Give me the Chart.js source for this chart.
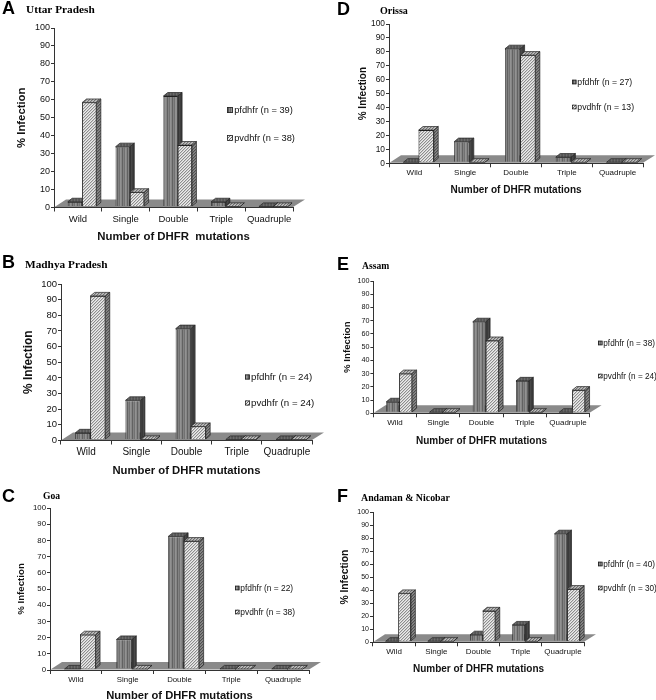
<!DOCTYPE html>
<html><head><meta charset="utf-8">
<script src="https://cdn.jsdelivr.net/npm/chart.js@4.4.1/dist/chart.umd.min.js"></script>
<style>
html,body{margin:0;padding:0;background:#fff;}
body{width:656px;height:700px;position:relative;overflow:hidden;}
canvas{position:absolute;display:block;}
</style></head><body>
<script>
// ---------- data ----------
const categories = ['Wild', 'Single', 'Double', 'Triple', 'Quadruple'];
const yTickValues = [0, 10, 20, 30, 40, 50, 60, 70, 80, 90, 100];
const panelLetters = ['A', 'B', 'C', 'D', 'E', 'F'];
const regionNames = ['Uttar Pradesh', 'Madhya Pradesh', 'Goa', 'Orissa', 'Assam', 'Andaman & Nicobar'];
const pfLegendLabels = ['pfdhfr (n = 39)', 'pfdhfr (n = 24)', 'pfdhfr (n = 22)', 'pfdhfr (n = 27)', 'pfdhfr (n = 38)', 'pfdhfr (n = 40)'];
const pvLegendLabels = ['pvdhfr (n = 38)', 'pvdhfr (n = 24)', 'pvdhfr (n = 38)', 'pvdhfr (n = 13)', 'pvdhfr (n = 24)', 'pvdhfr (n = 30)'];
const xAxisTitles = ['Number of DHFR  mutations', 'Number of DHFR mutations', 'Number of DHFR mutations',
                     'Number of DHFR mutations', 'Number of DHFR mutations', 'Number of DHFR mutations'];
const yAxisTitle = '% Infection';

const pfUttarPradesh = [2.6, 33.3, 61.5, 2.6, 0];
const pvUttarPradesh = [57.9, 7.9, 34.2, 0, 0];
const pfMadhyaPradesh = [4.2, 25.0, 70.8, 0, 0];
const pvMadhyaPradesh = [91.7, 0, 8.3, 0, 0];
const pfGoa = [0, 18.2, 81.8, 0, 0];
const pvGoa = [21.1, 0, 78.9, 0, 0];
const pfOrissa = [0, 14.8, 81.5, 3.7, 0];
const pvOrissa = [23.1, 0, 76.9, 0, 0];
const pfAssam = [7.9, 0, 68.4, 23.7, 0];
const pvAssam = [29.2, 0, 54.2, 0, 16.7];
const pfAndaman = [0, 0, 5.0, 12.5, 82.5];
const pvAndaman = [36.7, 0, 23.3, 0, 40.0];

const pfSeries = [pfUttarPradesh, pfMadhyaPradesh, pfGoa, pfOrissa, pfAssam, pfAndaman];
const pvSeries = [pvUttarPradesh, pvMadhyaPradesh, pvGoa, pvOrissa, pvAssam, pvAndaman];

// ---------- layout (page coordinates) ----------
const layouts = [
 {box:[0,0,330,248],   area:[54,293,28,207.5],   tick:9.5, ytick:9,   xLabY:219, yt:[11.3,21.5], xt:[11.4,237], leg:[9.3,227,110,138,6,1.2], let:[2,9],  reg:[26,10,11.3]},
 {box:[0,248,330,230], area:[61,312,284,440.5],  tick:10,  ytick:9.5, xLabY:452, yt:[11.9,29],   xt:[11.3,471], leg:[9.7,245,377,403,5,1],   let:[2,263],reg:[25,265,11.3]},
 {box:[0,478,330,222], area:[50,309,508,670],    tick:7.8, ytick:7.8, xLabY:680, yt:[9.7,21.7],  xt:[11.2,696], leg:[8.4,235,588,612,4.5,0.8], let:[2,497],reg:[43,497,9.6]},
 {box:[330,0,326,215], area:[389,643,24,163.3],  tick:8,   ytick:8.4, xLabY:173, yt:[10,363],    xt:[10,190],   leg:[8.7,572,82,107,4.5,0.8],  let:[337,10],reg:[380,11.5,10]},
 {box:[330,215,326,235],area:[373.4,589.6,281,413.3],tick:8,ytick:7.2,xLabY:423,yt:[9.7,347],   xt:[10,441],   leg:[8.2,598,343,376,4.5,0.8], let:[337,265],reg:[362,267,9.6]},
 {box:[330,450,326,250],area:[373,584,512,642.3], tick:8,  ytick:7,   xLabY:652, yt:[10.3,345],  xt:[10,669],   leg:[8.2,598,564,588,4.5,0.8], let:[337,497],reg:[361,498,9.9]}
];

const SANS = '"Liberation Sans", Arial, Helvetica, sans-serif';
const SERIF = '"Liberation Serif", "Times New Roman", Times, serif';

// ---------- patterns ----------
function mkPattern(w, h, paint) {
  const c = document.createElement('canvas'); c.width = w; c.height = h;
  const g = c.getContext('2d'); paint(g);
  return g.createPattern(c, 'repeat');
}
const stripeCols = ['#6a6a6a', '#9c9c9c', '#818181', '#5a5a5a', '#8c8c8c'];
const pfFront = mkPattern(5, 1, g => stripeCols.forEach((c, i) => { g.fillStyle = c; g.fillRect(i, 0, 1, 1); }));
const pfSide = mkPattern(3, 1, g => { g.fillStyle = '#3a3a3a'; g.fillRect(0,0,3,1); g.fillStyle = '#4c4c4c'; g.fillRect(1,0,1,1); });
const pfTop = mkPattern(3, 1, g => { g.fillStyle = '#555'; g.fillRect(0,0,3,1); g.fillStyle = '#707070'; g.fillRect(1,0,1,1); });
function hatch(bg, fg) {
  return mkPattern(3, 3, g => { g.fillStyle = bg; g.fillRect(0,0,3,3); g.fillStyle = fg; g.fillRect(0,2,1,1); g.fillRect(1,1,1,1); g.fillRect(2,0,1,1); });
}
const pvFront = hatch('#ececec', '#6e6e6e');
const pvSide = hatch('#8a8a8a', '#3c3c3c');
const pvTop = hatch('#c0c0c0', '#555555');

// ---------- 3D / decoration plugin ----------
const SHIFT = 4.2, BD = {x: 4.4, y: 3.6}, FD = {x: 12, y: 8};
function faces(ctx, el, side, top) {
  const p = el.getProps(['x', 'y', 'base', 'width'], true);
  const l = p.x - p.width / 2, r = p.x + p.width / 2;
  ctx.lineWidth = 0.7; ctx.strokeStyle = '#222';
  ctx.beginPath();
  ctx.moveTo(r, p.y); ctx.lineTo(r + BD.x, p.y - BD.y); ctx.lineTo(r + BD.x, p.base - BD.y); ctx.lineTo(r, p.base); ctx.closePath();
  ctx.fillStyle = side; ctx.fill(); ctx.stroke();
  ctx.beginPath();
  ctx.moveTo(l, p.y); ctx.lineTo(l + BD.x, p.y - BD.y); ctx.lineTo(r + BD.x, p.y - BD.y); ctx.lineTo(r, p.y); ctx.closePath();
  ctx.fillStyle = top; ctx.fill(); ctx.stroke();
}
function decor(i, L) {
  const bx = L.box[0], by = L.box[1];
  return {
    id: 'decor' + i,
    beforeDatasetsDraw(chart) {
      const ctx = chart.ctx, a = chart.chartArea;
      const y0 = chart.scales.y.getPixelForValue(0);
      ctx.save();
      ctx.beginPath();
      ctx.moveTo(a.left + 0.5, y0 - 0.5); ctx.lineTo(a.right, y0 - 0.5);
      ctx.lineTo(a.right + FD.x, y0 - FD.y); ctx.lineTo(a.left + FD.x, y0 - FD.y); ctx.closePath();
      ctx.fillStyle = '#8a8a8a'; ctx.fill();
      ctx.restore();
      ctx.save();
      ctx.translate(SHIFT, -1);
    },
    afterDatasetsDraw(chart) {
      const ctx = chart.ctx;
      const m0 = chart.getDatasetMeta(0), m1 = chart.getDatasetMeta(1);
      for (let k = 0; k < m0.data.length; k++) {
        faces(ctx, m0.data[k], pfSide, pfTop);
        m1.data[k].draw(ctx);
        faces(ctx, m1.data[k], pvSide, pvTop);
      }
      ctx.restore();
    },
    afterDraw(chart) {
      const ctx = chart.ctx;
      ctx.save();
      ctx.fillStyle = '#000';
      ctx.textBaseline = 'middle'; ctx.textAlign = 'left';
      ctx.font = 'bold 18px ' + SANS;
      ctx.fillText(panelLetters[i], L.let[0] - bx, L.let[1] - by);
      ctx.font = 'bold ' + L.reg[2] + 'px ' + SERIF;
      ctx.fillText(regionNames[i], L.reg[0] - bx, L.reg[1] - by);
      // legend
      const [fs, sx, y1, y2, sq, gap] = L.leg;
      [[pfFront, pfLegendLabels[i], y1], [pvFront, pvLegendLabels[i], y2]].forEach(([pat, txt, yy]) => {
        const X = sx - bx, Y = yy - by;
        ctx.fillStyle = pat; ctx.fillRect(X, Y - sq / 2, sq, sq);
        ctx.strokeStyle = '#222'; ctx.lineWidth = 0.8; ctx.strokeRect(X + 0.4, Y - sq / 2 + 0.4, sq - 0.8, sq - 0.8);
        ctx.fillStyle = '#111';
        ctx.font = fs + 'px ' + SANS;
        ctx.fillText(txt, X + sq + gap, Y + 0.5);
      });
      ctx.restore();
    }
  };
}

// ---------- build charts ----------
layouts.forEach((L, i) => {
  const [bx, by, bw, bh] = L.box;
  const cv = document.createElement('canvas');
  cv.width = bw; cv.height = bh;
  cv.style.left = bx + 'px'; cv.style.top = by + 'px';
  cv.style.width = bw + 'px'; cv.style.height = bh + 'px';
  document.body.appendChild(cv);
  const aL = L.area[0] - bx, aR = L.area[1] - bx, aT = L.area[2] - by, aB = L.area[3] - by;
  const xTL = 4, yTL = 3;
  const xPad = Math.max(0, L.xLabY - by - aB - xTL - 0.6 * L.tick);
  const yTitlePad = (L.yt[1] - bx) - 0.6 * L.yt[0];
  const xTitlePad = bh - (L.xt[1] - by) - 0.6 * L.xt[0];
  new Chart(cv, {
    type: 'bar',
    data: {
      labels: categories,
      datasets: [
        {label: pfLegendLabels[i], data: pfSeries[i], backgroundColor: pfFront, borderColor: '#222', borderWidth: 0.8},
        {label: pvLegendLabels[i], data: pvSeries[i], backgroundColor: pvFront, borderColor: '#222', borderWidth: 0.8}
      ]
    },
    options: {
      responsive: false, animation: false, devicePixelRatio: 1,
      layout: {padding: {left: 0, top: aT, right: bw - aR, bottom: 0}},
      datasets: {bar: {categoryPercentage: 0.6, barPercentage: 1}},
      plugins: {legend: {display: false}, tooltip: {enabled: false}, title: {display: false}},
      scales: {
        x: {
          grid: {display: true, drawOnChartArea: false, drawTicks: true, tickLength: xTL, color: '#333', lineWidth: 1, offset: true},
          border: {display: true, color: '#333', width: 1},
          ticks: {font: {family: SANS, size: L.tick}, color: '#111', padding: xPad, autoSkip: false, maxRotation: 0, minRotation: 0},
          title: {display: true, text: xAxisTitles[i], color: '#111',
                  font: {family: SANS, size: L.xt[0], weight: 'bold', lineHeight: 1.2},
                  padding: {top: 0, bottom: xTitlePad}},
          afterFit: s => { s.height = bh - aB; }
        },
        y: {
          min: 0, max: 100,
          afterBuildTicks: s => { s.ticks = yTickValues.map(v => ({value: v})); },
          grid: {display: true, drawOnChartArea: false, drawTicks: true, tickLength: yTL, color: '#333', lineWidth: 1},
          border: {display: true, color: '#333', width: 1},
          ticks: {font: {family: SANS, size: L.ytick}, color: '#111', padding: 1},
          title: {display: true, text: yAxisTitle, color: '#111',
                  font: {family: SANS, size: L.yt[0], weight: 'bold', lineHeight: 1.2},
                  padding: {top: yTitlePad, bottom: 0}},
          afterFit: s => { s.width = aL; }
        }
      }
    },
    plugins: [decor(i, L)]
  });
});
</script>
</body></html>
